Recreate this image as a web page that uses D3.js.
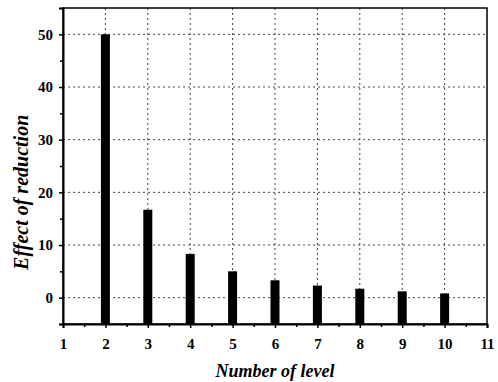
<!DOCTYPE html>
<html>
<head>
<meta charset="utf-8">
<script src="https://cdn.jsdelivr.net/npm/d3@7"></script>
<style>
  body { margin: 0; background: #fff; }
  svg text { font-family: "Liberation Serif", "DejaVu Serif", "Times New Roman", serif !important; }
</style>
</head>
<body>
<svg width="498" height="382"></svg>
<script>
// data
const levels = [2, 3, 4, 5, 6, 7, 8, 9, 10];
const reduction = [50, 16.7, 8.3, 5.0, 3.3, 2.3, 1.7, 1.2, 0.8];
const xTicks = [1, 2, 3, 4, 5, 6, 7, 8, 9, 10, 11];
const yTicks = [0, 10, 20, 30, 40, 50];

const svg = d3.select("svg");
const m = {left: 63, right: 11, top: 8, bottom: 58};
const W = 498 - m.left - m.right, H = 382 - m.top - m.bottom;

const x = d3.scaleLinear().domain([1, 11]).range([0, W]);
const y = d3.scaleLinear().domain([-5, 55]).range([H, 0]);

const g = svg.append("g").attr("transform", "translate(" + m.left + "," + m.top + ")");

// dotted grid
g.append("g").selectAll("line").data(xTicks.slice(1, -1)).join("line")
  .attr("x1", d => x(d)).attr("x2", d => x(d)).attr("y1", 0).attr("y2", H)
  .attr("stroke", "#444").attr("stroke-width", 1).attr("stroke-dasharray", "2,3");
g.append("g").selectAll("line").data(yTicks).join("line")
  .attr("x1", 0).attr("x2", W).attr("y1", d => y(d)).attr("y2", d => y(d))
  .attr("stroke", "#444").attr("stroke-width", 1).attr("stroke-dasharray", "2,3");

// bars
const bw = 9;
g.append("g").selectAll("rect").data(levels).join("rect")
  .attr("x", d => x(d) - bw / 2)
  .attr("width", bw)
  .attr("y", (d, i) => y(reduction[i]))
  .attr("height", (d, i) => y(-5) - y(reduction[i]))
  .attr("fill", "#000");

// frame
g.append("rect").attr("width", W).attr("height", H)
  .attr("fill", "none").attr("stroke", "#000").attr("stroke-width", 1.5);

// axes
g.append("g").attr("transform", "translate(0," + H + ")")
  .call(d3.axisBottom(x).tickValues(xTicks).tickFormat(d3.format("d")).tickSize(4).tickPadding(10));
g.append("g").attr("transform", "translate(0," + H + ")")
  .call(d3.axisBottom(x).tickValues(d3.range(1.5, 11, 1)).tickFormat("").tickSize(3))
  .call(a => a.select(".domain").remove());
g.append("g")
  .call(d3.axisLeft(y).tickValues(yTicks).tickSize(4).tickPadding(6));
g.append("g")
  .call(d3.axisLeft(y).tickValues([-5, 5, 15, 25, 35, 45]).tickFormat("").tickSize(3))
  .call(a => a.select(".domain").remove());

svg.selectAll(".tick line").attr("stroke", "#000").attr("stroke-width", 1.5);
svg.selectAll(".domain").attr("stroke", "#000").attr("stroke-width", 2);
svg.selectAll(".tick text")
  .attr("font-size", 15).attr("font-weight", "bold").attr("fill", "#000");

// axis titles
svg.append("text")
  .attr("x", m.left + x(6)).attr("y", 377)
  .attr("text-anchor", "middle")
  .attr("font-size", 18).attr("font-weight", "bold").attr("font-style", "italic")
  .text("Number of level");
svg.append("text")
  .attr("transform", "translate(28," + (m.top + y(20)) + ") rotate(-90)")
  .attr("text-anchor", "middle")
  .attr("font-size", 20).attr("font-weight", "bold").attr("font-style", "italic")
  .text("Effect of reduction");
</script>
</body>
</html>
